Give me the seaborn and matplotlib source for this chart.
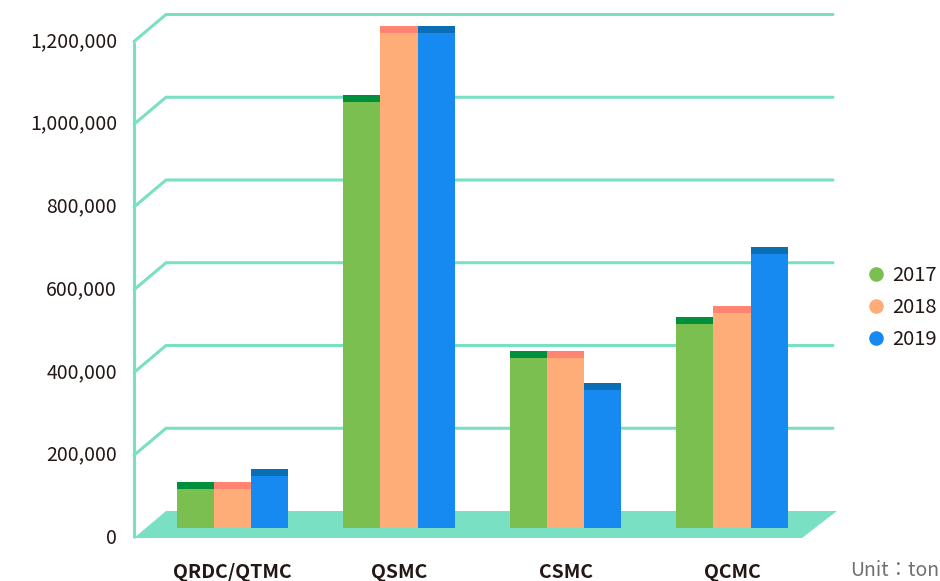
import matplotlib
matplotlib.use("Agg")
import matplotlib.pyplot as plt
import seaborn as sns
import pandas as pd
from matplotlib.lines import Line2D
from matplotlib.patches import Polygon

# ---- data -------------------------------------------------------------
companies = ["QRDC/QTMC", "QSMC", "CSMC", "QCMC"]
years = ["2017", "2018", "2019"]
tons_2017 = [111000, 1047000, 428000, 510000]
tons_2018 = [111000, 1213000, 428000, 537000]
tons_2019 = [143000, 1213000, 350000, 679000]
y_ticks = [0, 200000, 400000, 600000, 800000, 1000000, 1200000]
unit_label = "Unit：ton"

# ---- style ------------------------------------------------------------
bar_colors = ["#7abf4f", "#ffad78", "#168af0"]
cap_colors = ["#00903c", "#ff8572", "#0a6eb5"]
grid_color = "#7ae0c3"
text_color = "#231815"

sns.set_theme(style="white")
plt.rcParams["font.family"] = ["Noto Sans CJK SC", "DejaVu Sans"]

df = pd.DataFrame({
    "company": companies * 3,
    "year": [y for y in years for _ in companies],
    "tons": tons_2017 + tons_2018 + tons_2019,
})

W, H = 940, 581
fig = plt.figure(figsize=(W / 100, H / 100), dpi=100)
ax = fig.add_axes([0, 0, 1, 1])

# pixel <-> data helpers for the pseudo-3D frame
PX_X = 166.5            # px per category
X0_PX = 232.5           # px of first category
PX_Y = 82.75 / 200000   # px per ton
BASE_PX = 528           # px of the bar baseline


def dx(px):
    return (px - X0_PX) / PX_X


def dy(px):
    return (BASE_PX - px) / PX_Y


front_off = -10 / PX_Y    # front plane sits a little below the bar baseline
back_off = 17 / PX_Y      # back plane is raised (perspective depth)
x_front = dx(134)
x_back = dx(166)
x_grid_end = dx(833)
x_floor_front_end = dx(802)
x_floor_back_end = dx(837)

# floor
floor = Polygon(
    [(x_front, front_off), (x_floor_front_end, front_off),
     (x_floor_back_end, back_off), (x_back, back_off)],
    closed=True, facecolor=grid_color, edgecolor="none", zorder=0.5)
ax.add_patch(floor)

# left wall and back-wall gridlines
lw = 2.2
top_tick = y_ticks[-1]
ax.plot([x_front, x_front], [front_off, top_tick + front_off],
        color=grid_color, lw=lw, zorder=0.8, solid_capstyle="butt")
for t in y_ticks[1:]:
    ax.plot([x_front, x_back, x_grid_end],
            [t + front_off, t + back_off, t + back_off],
            color=grid_color, lw=lw, zorder=0.8, solid_joinstyle="miter")

# bars
sns.barplot(data=df, x="company", y="tons", hue="year", hue_order=years,
            palette=bar_colors, saturation=1, width=0.667, linewidth=0,
            legend=False, ax=ax, zorder=2)

# darker top faces on each bar
cap = 7 / PX_Y
for container, c in zip(ax.containers, cap_colors):
    for patch in container:
        ax.bar(patch.get_x(), cap, width=patch.get_width(),
               bottom=patch.get_height() - cap, align="edge",
               color=c, linewidth=0, zorder=2.5)

ax.set_xlim(dx(0), dx(W))
ax.set_ylim(dy(H), dy(0))
ax.axis("off")

# value axis labels on the front plane
for t in y_ticks:
    ax.text(dx(117), t + front_off, f"{t:,}", ha="right", va="center",
            fontsize=14, color=text_color)

# category labels
for i, name in enumerate(companies):
    ax.text(i, dy(572), name, ha="center", va="center", fontsize=14,
            fontweight="bold", color=text_color)

ax.text(dx(939), dy(571), unit_label, ha="right", va="center",
        fontsize=14, color="#707070",
        family=["Noto Sans CJK JP", "DejaVu Sans"])

handles = [Line2D([0], [0], marker="o", linestyle="none", markersize=10.5,
                  markerfacecolor=c, markeredgecolor="none")
           for c in bar_colors]
fig.legend(handles, years, loc="upper left",
           bbox_to_anchor=(866 / W, 1 - 265 / H), frameon=False,
           fontsize=14.5, handlelength=1.0, handletextpad=0.3,
           labelspacing=0.55, borderpad=0, borderaxespad=0,
           labelcolor=text_color)

fig.savefig("out.png", dpi=100)
